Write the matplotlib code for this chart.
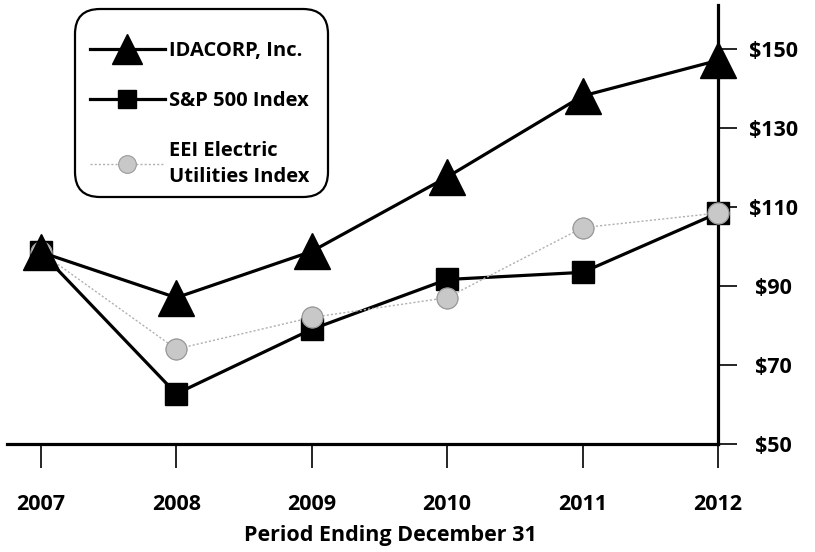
import matplotlib
matplotlib.use('Agg')
import matplotlib.pyplot as plt
from matplotlib.patches import FancyBboxPatch

plt.rcParams['font.family'] = ['Open Sans', 'DejaVu Sans']

# values (cumulative total return, $)
years = [2007, 2008, 2009, 2010, 2011, 2012]
idacorp = [98.5, 87, 98.7, 117.5, 138, 147]
sp500 = [98.5, 62.7, 79, 91.6, 93.4, 108.4]
eei = [98.5, 74, 82, 87, 104.7, 108.4]
y_ticks = [50, 70, 90, 110, 130, 150]
y_labels = ['$50', '$70', '$90', '$110', '$130', '$150']

fig = plt.figure(figsize=(8.15, 5.52), dpi=100)
ax = fig.add_axes([7 / 815, 1 - 444 / 552, (718 - 7) / 815, (444 - 5) / 552])

eei_style = dict(marker='o', markersize=15, markerfacecolor='#c8c8c8',
                 markeredgecolor='#9a9a9a', markeredgewidth=0.8)
ax.plot(years, eei, color='#b0b0b0', lw=1.0, ls=(0, (1.5, 1.5)),
        label='EEI Electric\nUtilities Index', zorder=3, clip_on=False, **eei_style)
ax.plot(years, sp500, color='black', lw=2.3, marker='s', markersize=16,
        label='S&P 500 Index', zorder=2, clip_on=False)
# circles sit over the squares
ax.plot(years, eei, ls='none', zorder=4, clip_on=False, **eei_style)
ax.plot(years, idacorp, color='black', lw=2.3, marker='^', markersize=26,
        label='IDACORP, Inc.', zorder=5, clip_on=False)

ax.set_xlim(2006.75, 2012)
ax.set_ylim(50, 161)

for s in ['top', 'left']:
    ax.spines[s].set_visible(False)
ax.spines['bottom'].set_linewidth(2.3)
ax.spines['right'].set_linewidth(2.3)

ax.set_xticks(years)
ax.set_xticklabels([str(y) for y in years], fontsize=15.5, fontweight='bold')
ax.tick_params(axis='x', direction='out', length=17, width=1.2, pad=19)

ax.yaxis.tick_right()
ax.set_yticks(y_ticks)
ax.set_yticklabels(y_labels, fontsize=15.5, fontweight='bold')
ax.tick_params(axis='y', direction='out', length=14, width=1.2, pad=26)
for lab in ax.get_yticklabels():
    lab.set_horizontalalignment('center')

fig.text(390 / 815, 1 - 535 / 552, 'Period Ending December 31', ha='center',
         va='center', fontsize=15.5, fontweight='bold')

# legend without its own frame, rounded box drawn separately
h, l = ax.get_legend_handles_labels()
order = [2, 1, 0]
leg = ax.legend([h[i] for i in order], [l[i] for i in order],
                loc='upper left', bbox_to_anchor=(90 / 815, 1 - 41 / 552),
                bbox_transform=fig.transFigure, borderaxespad=0,
                prop={'weight': 'bold', 'size': 14.5},
                handlelength=3.7, handletextpad=0.2, labelspacing=1.5,
                borderpad=0, frameon=False, markerscale=0.85)
for t in leg.get_texts():
    t.set_linespacing(1.35)
box = FancyBboxPatch((0.75, (552 - 197) / 100), 2.53, 1.88,
                     boxstyle='round,pad=0,rounding_size=0.25',
                     transform=fig.dpi_scale_trans, facecolor='white',
                     edgecolor='black', linewidth=1.6, zorder=1, clip_on=False)
ax.add_patch(box)

fig.savefig('out.png', dpi=100)
